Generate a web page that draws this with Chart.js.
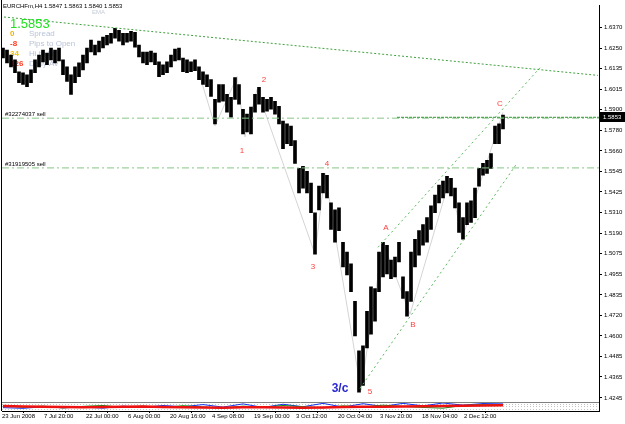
<!DOCTYPE html>
<html>
<head>
<meta charset="utf-8">
<script src="https://cdn.jsdelivr.net/npm/chart.js@4.4.1/dist/chart.umd.min.js"></script>
<style>
  html, body { margin: 0; padding: 0; background: #fff; overflow: hidden; }
  #wrap { width: 625px; height: 424px; }
</style>
</head>
<body>
<div id="wrap"><canvas id="grafico" width="625" height="424"></canvas></div>
<script>
'use strict';

// ── Dati: EURCHFm H4 (una barra ogni ~4 px del grafico originale) ──
const barHigh = [
  1.6250,1.6238,1.6210,1.6182,1.6114,1.6108,1.6097,1.6125,1.6182,1.6210,
  1.6238,1.6221,1.6250,1.6238,1.6250,1.6182,1.6142,1.6097,1.6142,1.6165,
  1.6210,1.6250,1.6295,1.6267,1.6289,1.6312,1.6323,1.6334,1.6363,1.6351,
  1.6334,1.6334,1.6346,1.6340,1.6267,1.6227,1.6227,1.6233,1.6221,1.6171,
  1.6154,1.6171,1.6210,1.6244,1.6250,1.6193,1.6182,1.6171,1.6182,1.6142,
  1.6114,1.6097,1.6069,1.5956,1.6041,1.6041,1.5984,1.5967,1.6080,1.6041,
  1.5899,1.5871,1.5911,1.5984,1.6024,1.5967,1.5956,1.5967,1.5945,1.5916,
  1.5832,1.5815,1.5803,1.5719,1.5560,1.5572,1.5543,1.5476,1.5306,1.5459,
  1.5532,1.5521,1.5363,1.5323,1.5334,1.5137,1.5080,1.5013,1.4798,1.4515,
  1.4543,1.4741,1.4882,1.4871,1.5080,1.5137,1.5120,1.5035,1.5052,1.5137,
  1.4939,1.4854,1.5080,1.5154,1.5204,1.5238,1.5278,1.5346,1.5408,1.5464,
  1.5487,1.5515,1.5504,1.5447,1.5363,1.5278,1.5363,1.5374,1.5447,1.5560,
  1.5589,1.5606,1.5645,1.5803,1.5815,1.5866
];
const barLow = [
  1.6193,1.6165,1.6142,1.6108,1.6052,1.6041,1.6029,1.6052,1.6108,1.6142,
  1.6171,1.6154,1.6182,1.6165,1.6176,1.6097,1.6058,1.5984,1.6052,1.6086,
  1.6125,1.6165,1.6227,1.6210,1.6227,1.6250,1.6267,1.6278,1.6306,1.6289,
  1.6267,1.6284,1.6289,1.6255,1.6199,1.6165,1.6154,1.6171,1.6154,1.6086,
  1.6097,1.6108,1.6142,1.6176,1.6182,1.6114,1.6108,1.6114,1.6120,1.6069,
  1.6041,1.6029,1.5973,1.5815,1.5939,1.5945,1.5882,1.5854,1.5956,1.5928,
  1.5758,1.5769,1.5758,1.5882,1.5928,1.5882,1.5888,1.5899,1.5871,1.5815,
  1.5673,1.5702,1.5690,1.5589,1.5419,1.5447,1.5419,1.5306,1.5069,1.5323,
  1.5419,1.5391,1.5210,1.5137,1.5204,1.4995,1.4950,1.4854,1.4600,1.4278,
  1.4317,1.4532,1.4611,1.4685,1.4854,1.4939,1.4956,1.4928,1.4939,1.5024,
  1.4815,1.4713,1.4798,1.4995,1.5063,1.5120,1.5137,1.5210,1.5306,1.5363,
  1.5391,1.5419,1.5402,1.5334,1.5193,1.5154,1.5238,1.5250,1.5278,1.5459,
  1.5521,1.5532,1.5560,1.5702,1.5702,1.5786
];

// zigzag (linee grigie tra i punti d'onda)
const zigX = [49.25, 53, 58.5, 60.5, 63.5, 78, 80.5, 89.5, 95, 101.75, 111.75, 114.75, 125];
const zigY = [1.6086, 1.5803, 1.6086, 1.5741, 1.6012, 1.5069, 1.5532, 1.4289, 1.5137, 1.4724, 1.5504, 1.5154, 1.5882];

// linee di tendenza / canale
const trendX = [-0.75, 148.75];   const trendY = [1.6430, 1.6093];
const chanUpX = [93.75, 134.25];  const chanUpY = [1.5108, 1.6137];
const chanLoX = [89.25, 128.5];   const chanLoY = [1.4300, 1.5589];

// ordini aperti e prezzo corrente
const orderNames = ['#32274037 sell', '#31919505 sell'];
const orderPrices = [1.5848, 1.5563];
const bidPrice = 1.5853;
const bidFrom = 98.5;

// etichette d'onda
const waveText  = ['1', '2', '3', '4', '5', 'A', 'B', 'C'];
const waveIdx   = [59.75, 65.25, 77.5, 81, 91.75, 95.75, 102.5, 124.25];
const wavePrice = [1.5662, 1.6069, 1.4995, 1.5589, 1.4278, 1.5221, 1.4662, 1.5933];
const bigWave = { text: '3/c', idx: 84.25, price: 1.4300 };

// indicatore nella sotto-finestra (un punto ogni 5 barre)
const indRed   = [55,52,48,45,42,44,47,50,46,42,40,38,41,43,40,37,40,44,48,47,50,53,56,58,62,66];
const indGreen = [60,42,55,35,52,62,40,55,38,60,45,32,55,42,62,48,36,58,44,66,52,40,32,62,72,68];
const indBlue  = [38,30,48,36,44,32,55,40,62,48,72,44,80,40,76,48,86,44,82,52,86,58,90,66,84,80];

// assi
const yTickVals = [1.6370,1.6250,1.6135,1.6015,1.5900,1.5780,1.5660,1.5545,1.5425,1.5310,
                   1.5190,1.5075,1.4955,1.4835,1.4720,1.4600,1.4485,1.4365,1.4245];
const xTickIdx = [-0.25, 10.25, 20.75, 31.25, 41.75, 52.25, 62.75, 73.25, 83.75, 94.25, 104.75, 115.25];
const xTickLabels = ['23 Jun 2008','7 Jul 20:00','22 Jul 00:00','6 Aug 00:00','20 Aug 16:00','4 Sep 08:00',
                     '19 Sep 00:00','3 Oct 12:00','20 Oct 04:00','3 Nov 20:00','18 Nov 04:00','2 Dec 12:00'];

const SANS = '"Liberation Sans", Arial, sans-serif';

function pts(xs, ys) { return xs.map((x, i) => ({ x: x, y: ys[i] })); }

function lineDs(data, color, dash, width, order, axis) {
  return {
    type: 'line', data: data, borderColor: color, borderDash: dash, borderWidth: width,
    pointRadius: 0, fill: false, tension: 0, order: order, yAxisID: axis || 'y'
  };
}

const mtDecor = {
  id: 'mtDecor',
  beforeDatasetsDraw(chart) {
    const c = chart.ctx;
    c.save();
    c.textBaseline = 'alphabetic';
    c.textAlign = 'left';
    c.font = '8px ' + SANS;
    c.fillStyle = '#b9c3d9';
    c.fillText('Spread', 29, 36);
    c.fillText('Pips to Open', 29, 46);
    c.fillText('Hi to Lo', 29, 56);
    c.fillText('Daily Av', 29, 66);
    c.font = 'bold 8px ' + SANS;
    c.fillStyle = '#f0b400'; c.fillText('0', 10, 36);
    c.fillStyle = '#ff3b1f'; c.fillText('-8', 10, 46);
    c.fillStyle = '#f0c400'; c.fillText('34', 10, 56);
    c.fillStyle = '#ff3b1f'; c.fillText('126', 10, 66);
    c.font = '6px ' + SANS;
    c.fillStyle = '#c4cbd8';
    c.fillText('EMA', 92, 14);
    c.restore();
  },
  afterDatasetsDraw(chart) {
    const c = chart.ctx, a = chart.chartArea;
    const xs = chart.scales.x, ys = chart.scales.y, y2 = chart.scales.y2;
    c.save();
    // cornice
    c.strokeStyle = '#000';
    c.lineWidth = 1;
    c.beginPath(); c.moveTo(a.left - 0.5, 0); c.lineTo(a.left - 0.5, a.bottom); c.stroke();
    c.strokeStyle = '#808080';
    c.beginPath(); c.moveTo(a.left, Math.round(y2.top) + 0.5); c.lineTo(a.right, Math.round(y2.top) + 0.5); c.stroke();

    // titolo
    c.textAlign = 'left';
    c.textBaseline = 'alphabetic';
    c.font = '6px ' + SANS;
    c.fillStyle = '#000';
    c.fillText('EURCHFm,H4 1.5847 1.5863 1.5840 1.5853', 3, 8);
    c.font = '13px ' + SANS;
    c.fillStyle = '#22e022';
    c.fillText('1.5853', 10, 28);

    // etichette ordini
    c.font = '6px ' + SANS;
    c.fillStyle = '#000';
    orderNames.forEach((t, i) => c.fillText(t, 5, Math.round(ys.getPixelForValue(orderPrices[i])) - 2));

    // etichette d'onda
    c.textAlign = 'center';
    c.textBaseline = 'middle';
    c.font = '8px ' + SANS;
    c.fillStyle = '#ff4040';
    waveText.forEach((t, i) => c.fillText(t, xs.getPixelForValue(waveIdx[i]), ys.getPixelForValue(wavePrice[i])));
    c.font = 'bold 12px ' + SANS;
    c.fillStyle = '#2a2ad0';
    c.fillText(bigWave.text, xs.getPixelForValue(bigWave.idx), ys.getPixelForValue(bigWave.price));

    // box prezzo corrente
    const by = Math.round(ys.getPixelForValue(bidPrice));
    c.fillStyle = '#000';
    c.fillRect(a.right + 1, by - 5, 25, 10);
    c.fillStyle = '#fff';
    c.textAlign = 'left';
    c.font = '6px ' + SANS;
    c.fillText(bidPrice.toFixed(4), a.right + 4, by);
    c.restore();
  }
};

const datasets = [
  {
    type: 'bar', label: 'EURCHFm',
    data: barLow.map((l, i) => ({ x: i, y: [l, barHigh[i]] })),
    backgroundColor: '#000', borderWidth: 0, barThickness: 3, grouped: false,
    order: 2, yAxisID: 'y'
  },
  lineDs(pts(zigX, zigY), '#d4d4d4', [], 1, 5),
  lineDs(pts(trendX, trendY), '#3fa03f', [2, 2], 1, 0),
  lineDs(pts(chanUpX, chanUpY), '#5cb85c', [2, 3], 1, 0),
  lineDs(pts(chanLoX, chanLoY), '#5cb85c', [2, 3], 1, 0),
  lineDs(pts([-0.25, 149], [orderPrices[0], orderPrices[0]]), '#86c686', [7, 3, 2, 3], 1, 1),
  lineDs(pts([-0.25, 149], [orderPrices[1], orderPrices[1]]), '#86c686', [7, 3, 2, 3], 1, 1),
  lineDs(pts([bidFrom, 149], [bidPrice, bidPrice]), '#2f9a2f', [3, 1], 1, 0),
  lineDs(indRed.map((v, i) => ({ x: i * 5, y: v })), '#ee1111', [], 2.5, 3, 'y2'),
  lineDs(indGreen.map((v, i) => ({ x: i * 5, y: v })), '#118811', [], 1, 4, 'y2'),
  lineDs(indBlue.map((v, i) => ({ x: i * 5, y: v })), '#1133ee', [], 1, 4, 'y2')
];

const ctx = document.getElementById('grafico').getContext('2d');
new Chart(ctx, {
  type: 'bar',
  data: { datasets: datasets },
  plugins: [mtDecor],
  options: {
    responsive: false,
    animation: false,
    layout: { padding: { left: 2, top: 0, right: 0, bottom: 0 } },
    plugins: { legend: { display: false }, tooltip: { enabled: false } },
    scales: {
      x: {
        type: 'linear', min: -0.25, max: 149, offset: false,
        afterBuildTicks: s => { s.ticks = xTickIdx.map(v => ({ value: v })); },
        afterFit: s => { s.height = 13; },
        ticks: {
          autoSkip: false, maxRotation: 0, align: 'start', padding: 0, color: '#000',
          font: { family: SANS, size: 6 },
          callback: (v, i) => xTickLabels[i]
        },
        grid: { drawOnChartArea: false, tickLength: 2, color: '#000' },
        border: { display: true, color: '#000' }
      },
      y: {
        type: 'linear', position: 'right', stack: 'win', stackWeight: 402,
        min: 1.4221, max: 1.6493,
        afterBuildTicks: s => { s.ticks = yTickVals.map(v => ({ value: v })); },
        afterFit: s => { s.width = 26; },
        ticks: { color: '#000', padding: 2, font: { family: SANS, size: 6 }, callback: v => v.toFixed(4) },
        grid: { drawOnChartArea: false, tickLength: 3, color: '#000' },
        border: { display: true, color: '#000' }
      },
      y2: {
        type: 'linear', position: 'right', stack: 'win', stackWeight: 9,
        min: 0, max: 100,
        afterBuildTicks: s => { s.ticks = [22, 50, 78].map(v => ({ value: v })); },
        afterFit: s => { s.width = 26; },
        ticks: { display: false },
        grid: { drawOnChartArea: true, drawTicks: false, color: '#c4c4c4' },
        border: { display: true, color: '#000', dash: [1, 2] }
      }
    }
  }
});
</script>
</body>
</html>
